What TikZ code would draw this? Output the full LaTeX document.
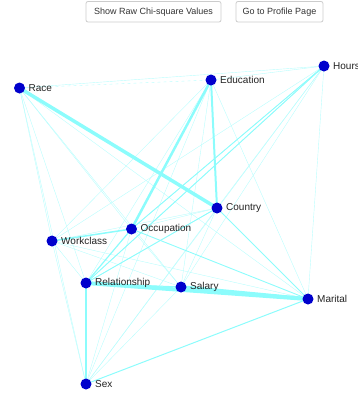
\documentclass[tikz,border=0pt]{standalone}
\usepackage{fontspec}
\setmainfont{Liberation Sans}
\begin{document}
\begin{tikzpicture}[x=1pt,y=-1pt,
  vert/.style={circle,fill={rgb,255:red,0;green,0;blue,204},inner sep=0pt,minimum size=11pt},
  lab/.style={anchor=west,font=\fontsize{10}{12}\selectfont,text={rgb,255:red,34;green,34;blue,34},inner sep=0pt},
  edge/.style={draw={rgb,255:red,140;green,252;blue,252},line width=#1},
  edge/.default=0.5pt,
  faint/.style={draw={rgb,255:red,185;green,253;blue,253},line width=0.4pt},
  btn/.style={draw={rgb,255:red,204;green,204;blue,204},rounded corners=2pt,fill=white,line width=0.8pt},
  btntext/.style={font=\fontsize{9}{11}\selectfont,text={rgb,255:red,51;green,51;blue,51}}
]
\useasboundingbox (0,0) rectangle (358,397);
% buttons
\draw[btn] (86,1.5) rectangle (221,22);
\node[btntext] (b1) at (153.5,12) {Show Raw Chi-square Values};
\draw[btn] (236,1.5) rectangle (323,22);
\node[btntext] (b2) at (279.5,12) {Go to Profile Page};
% vertex coordinates
\coordinate (Race) at (19.5,88);
\coordinate (Education) at (211,80);
\coordinate (Hours) at (324,66);
\coordinate (Country) at (217,208);
\coordinate (Occupation) at (131.5,229);
\coordinate (Workclass) at (52,241);
\coordinate (Relationship) at (86,283);
\coordinate (Salary) at (181,287);
\coordinate (Marital) at (308,299);
\coordinate (Sex) at (86,384);
% faint complete graph
\foreach \a/\b in {Race/Hours,Race/Occupation,Race/Workclass,Race/Relationship,Race/Salary,Race/Marital,Race/Sex,
  Education/Hours,Education/Workclass,Education/Relationship,Education/Salary,Education/Marital,Education/Sex,
  Hours/Country,Hours/Occupation,Hours/Workclass,Hours/Relationship,Hours/Salary,Hours/Marital,Hours/Sex,
  Country/Occupation,Country/Workclass,Country/Relationship,Country/Salary,Country/Sex,
  Occupation/Salary,Occupation/Sex,
  Workclass/Relationship,Workclass/Salary,Workclass/Marital,Workclass/Sex,
  Relationship/Salary,Salary/Sex}
  \draw[faint] (\a) -- (\b);
\draw[faint,dashed] (Race) -- (Education);
% stronger edges
\draw[edge=0.9pt] (Hours) -- (Occupation);
\draw[edge=0.9pt] (Hours) -- (Relationship);
\draw[edge=0.8pt] (Country) -- (Marital);
\draw[edge=0.9pt] (Occupation) -- (Marital);
\draw[edge=1pt] (Marital) -- (Sex);
\draw[edge=0.9pt] (Relationship) -- (Country);
\draw[edge=1.2pt] (Occupation) -- (Relationship);
\draw[edge=1.5pt] (Workclass) -- (Occupation);
\draw[edge=2pt] (Relationship) -- (Sex);
\draw[edge=2pt] (Education) -- (Country);
\draw[edge=2.5pt] (Education) -- (Occupation);
\draw[edge=3.5pt] (Race) -- (Country);
\draw[edge=4pt] (Relationship) -- (Marital);
\draw[edge=3.5pt] (Salary) -- (Marital);
\draw[edge=1pt] (Relationship) -- (Salary);
% vertices
\foreach \n in {Race,Education,Hours,Country,Occupation,Workclass,Relationship,Salary,Marital,Sex}{
  \node[vert] (v\n) at (\n) {};
  \node[lab] (l\n) at ([xshift=9pt]\n) {\n};
}
\end{tikzpicture}
\end{document}
